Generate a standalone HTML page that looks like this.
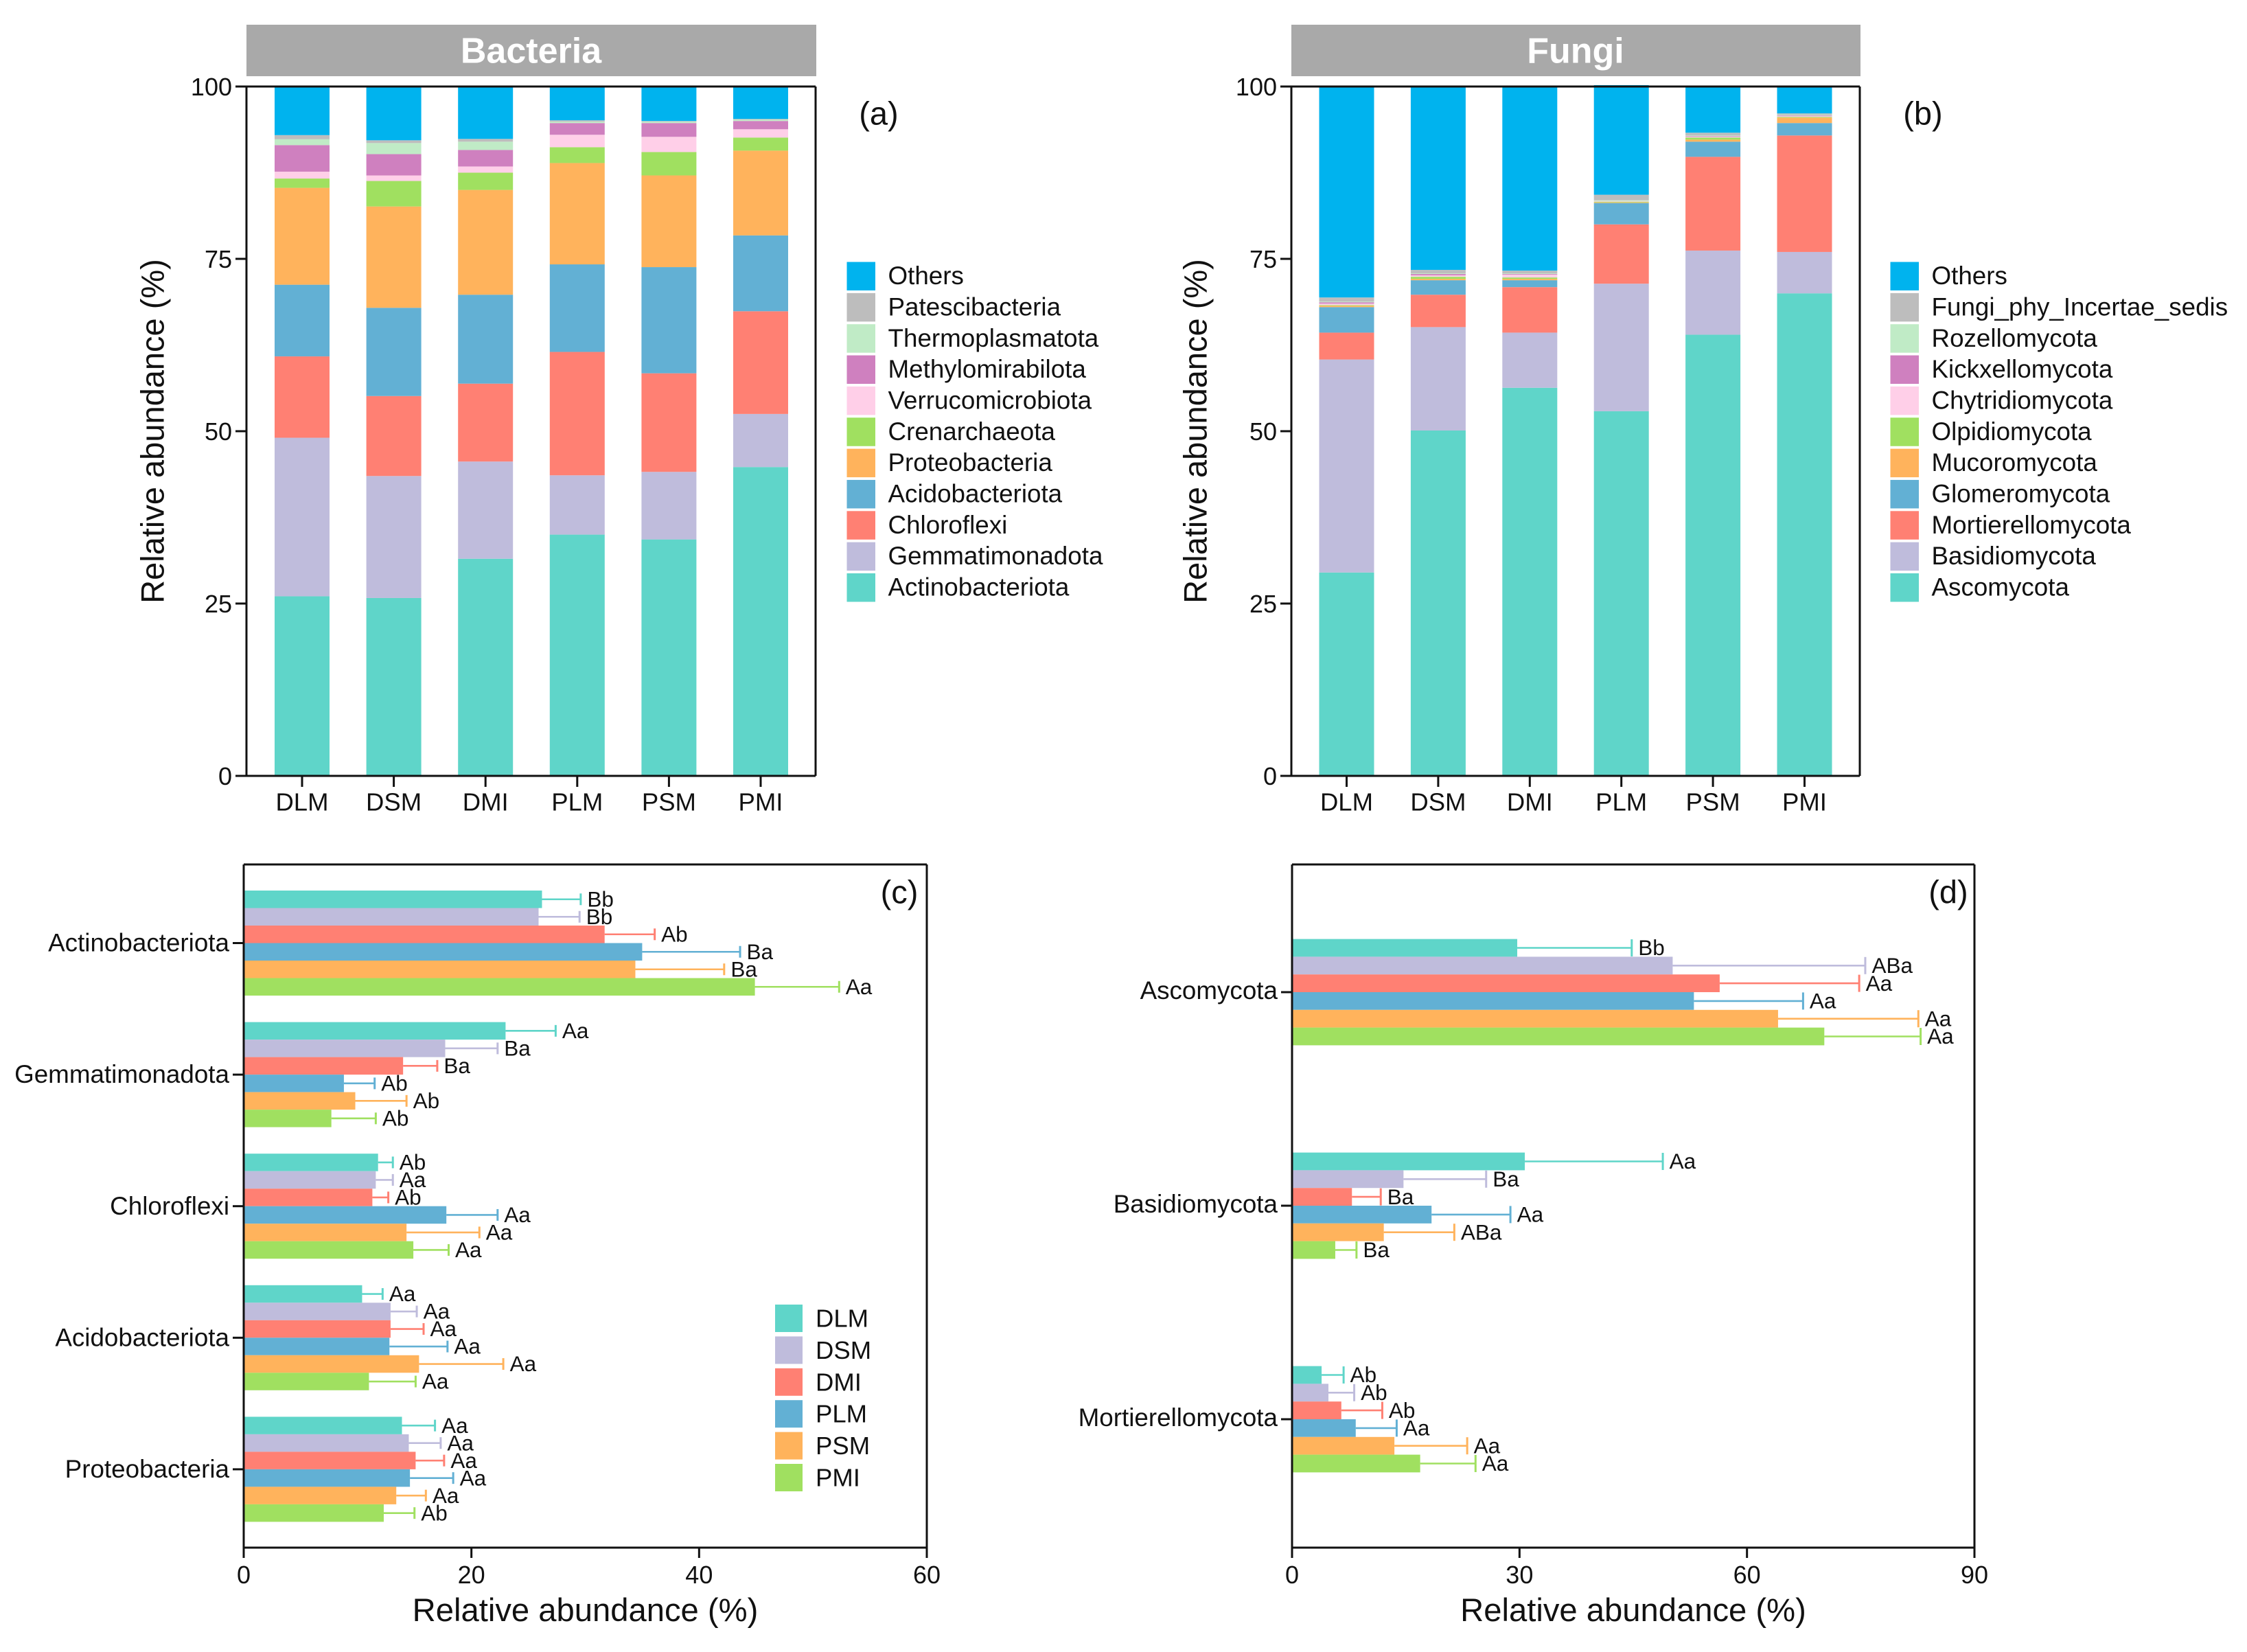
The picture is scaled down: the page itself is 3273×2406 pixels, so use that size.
<!DOCTYPE html>
<html lang="en">
<head>
<meta charset="utf-8">
<title>Relative abundance of bacteria and fungi</title>
<style>
  html, body { margin: 0; padding: 0; background: #fff; }
  #figure { display: block; width: 3273px; height: 2406px; font-family: "Liberation Sans", Arial, sans-serif; }
</style>
</head>
<body>
<svg id="figure" xmlns="http://www.w3.org/2000/svg" width="3273" height="2406" viewBox="0 0 3273 2406"></svg>
<script>
/* ---------- shared data ---------- */
const groups = ['DLM', 'DSM', 'DMI', 'PLM', 'PSM', 'PMI'];
const stackTicks = [0, 25, 50, 75, 100];

/* ---------- panel (a) values, % ---------- */
const bacteriaNames = ['Actinobacteriota', 'Gemmatimonadota', 'Chloroflexi', 'Acidobacteriota', 'Proteobacteria', 'Crenarchaeota', 'Verrucomicrobiota', 'Methylomirabilota', 'Thermoplasmatota', 'Patescibacteria', 'Others'];
const bacActinobacteriota = [26.05, 25.8, 31.5, 35.0, 34.3, 44.8];
const bacGemmatimonadota = [23.0, 17.7, 14.1, 8.6, 9.8, 7.7];
const bacChloroflexi = [11.8, 11.6, 11.3, 17.9, 14.3, 14.9];
const bacAcidobacteriota = [10.4, 12.8, 12.9, 12.7, 15.4, 11.0];
const bacProteobacteria = [14.05, 14.7, 15.2, 14.7, 13.3, 12.3];
const bacCrenarchaeota = [1.35, 3.7, 2.5, 2.3, 3.4, 1.9];
const bacVerrucomicrobiota = [1.0, 0.8, 0.9, 1.8, 2.2, 1.2];
const bacMethylomirabilota = [3.85, 3.1, 2.4, 1.7, 2.0, 1.2];
const bacThermoplasmatota = [0.85, 1.6, 1.2, 0.2, 0.2, 0.2];
const bacPatescibacteria = [0.6, 0.4, 0.4, 0.2, 0.1, 0.1];
const bacOthers = [7.0, 7.8, 7.6, 4.9, 5.0, 4.7];

/* ---------- panel (b) values, % ---------- */
const fungiNames = ['Ascomycota', 'Basidiomycota', 'Mortierellomycota', 'Glomeromycota', 'Mucoromycota', 'Olpidiomycota', 'Chytridiomycota', 'Kickxellomycota', 'Rozellomycota', 'Fungi_phy_Incertae_sedis', 'Others'];
const funAscomycota = [29.5, 50.1, 56.3, 52.9, 64.0, 70.0];
const funBasidiomycota = [30.9, 15.0, 8.0, 18.5, 12.2, 6.0];
const funMortierellomycota = [3.9, 4.7, 6.6, 8.6, 13.6, 16.9];
const funGlomeromycota = [3.7, 2.1, 1.0, 3.1, 2.2, 1.8];
const funMucoromycota = [0.2, 0.2, 0.2, 0.1, 0.3, 0.8];
const funOlpidiomycota = [0.1, 0.3, 0.2, 0.1, 0.3, 0.1];
const funChytridiomycota = [0.2, 0.2, 0.4, 0.1, 0.1, 0.1];
const funKickxellomycota = [0.2, 0.2, 0.1, 0.0, 0.1, 0.1];
const funRozellomycota = [0.1, 0.1, 0.1, 0.1, 0.1, 0.1];
const funIncertae = [0.6, 0.5, 0.4, 0.8, 0.4, 0.2];
const funOthers = [30.6, 26.6, 26.7, 15.9, 6.7, 4.0];

/* ---------- panel (c) values, % ---------- */
const bacteriaCategories = ['Actinobacteriota', 'Gemmatimonadota', 'Chloroflexi', 'Acidobacteriota', 'Proteobacteria'];
const bacteriaTicks = [0, 20, 40, 60];
const cMeanActinobacteriota = [26.2, 25.9, 31.7, 35.0, 34.4, 44.9];
const cErrorActinobacteriota = [29.6, 29.5, 36.1, 43.6, 42.2, 52.3];
const cLettersActinobacteriota = ['Bb', 'Bb', 'Ab', 'Ba', 'Ba', 'Aa'];
const cMeanGemmatimonadota = [23.0, 17.7, 14.0, 8.8, 9.8, 7.7];
const cErrorGemmatimonadota = [27.4, 22.3, 17.0, 11.5, 14.3, 11.6];
const cLettersGemmatimonadota = ['Aa', 'Ba', 'Ba', 'Ab', 'Ab', 'Ab'];
const cMeanChloroflexi = [11.8, 11.6, 11.3, 17.8, 14.3, 14.9];
const cErrorChloroflexi = [13.1, 13.1, 12.7, 22.3, 20.7, 18.0];
const cLettersChloroflexi = ['Ab', 'Aa', 'Ab', 'Aa', 'Aa', 'Aa'];
const cMeanAcidobacteriota = [10.4, 12.9, 12.9, 12.8, 15.4, 11.0];
const cErrorAcidobacteriota = [12.2, 15.2, 15.8, 17.9, 22.8, 15.1];
const cLettersAcidobacteriota = ['Aa', 'Aa', 'Aa', 'Aa', 'Aa', 'Aa'];
const cMeanProteobacteria = [13.9, 14.5, 15.1, 14.6, 13.4, 12.3];
const cErrorProteobacteria = [16.8, 17.3, 17.6, 18.4, 16.0, 15.0];
const cLettersProteobacteria = ['Aa', 'Aa', 'Aa', 'Aa', 'Aa', 'Ab'];

/* ---------- panel (d) values, % ---------- */
const fungiCategories = ['Ascomycota', 'Basidiomycota', 'Mortierellomycota'];
const fungiTicks = [0, 30, 60, 90];
const dMeanAscomycota = [29.7, 50.2, 56.4, 53.0, 64.1, 70.2];
const dErrorAscomycota = [44.8, 75.6, 74.8, 67.4, 82.6, 82.9];
const dLettersAscomycota = ['Bb', 'ABa', 'Aa', 'Aa', 'Aa', 'Aa'];
const dMeanBasidiomycota = [30.7, 14.7, 7.9, 18.4, 12.1, 5.7];
const dErrorBasidiomycota = [48.9, 25.6, 11.7, 28.8, 21.4, 8.5];
const dLettersBasidiomycota = ['Aa', 'Ba', 'Ba', 'Aa', 'ABa', 'Ba'];
const dMeanMortierellomycota = [3.9, 4.8, 6.5, 8.4, 13.5, 16.9];
const dErrorMortierellomycota = [6.8, 8.2, 11.9, 13.8, 23.1, 24.2];
const dLettersMortierellomycota = ['Ab', 'Ab', 'Ab', 'Aa', 'Aa', 'Aa'];

/* ---------- colours ---------- */
const stackColors = ['#5fd5c9', '#bfbcdc', '#ff8073', '#62b0d4', '#ffb35c', '#a0e060', '#ffcfe8', '#cf80bf', '#c0ebc6', '#bdbdbd', '#00b3ee'];
const ink = '#111111';

/* ---------- drawing helpers ---------- */
const NS = 'http://www.w3.org/2000/svg';
const root = document.getElementById('figure');

function slug(s) {
  return String(s).toLowerCase().replace(/[^a-z0-9]+/g, '-').replace(/^-|-$/g, '');
}
function makeGroup(parent, name) {
  const el = document.createElementNS(NS, 'g');
  
  
  parent.appendChild(el);
  return el;
}
function makeRect(parent, name, x, y, w, h, fill) {
  const el = document.createElementNS(NS, 'rect');
  el.setAttribute('x', x);
  el.setAttribute('y', y);
  el.setAttribute('width', w);
  el.setAttribute('height', h);
  el.setAttribute('fill', fill);
  
  
  parent.appendChild(el);
  return el;
}
function makeLine(parent, name, x1, y1, x2, y2, stroke, width) {
  const el = document.createElementNS(NS, 'line');
  el.setAttribute('x1', x1);
  el.setAttribute('y1', y1);
  el.setAttribute('x2', x2);
  el.setAttribute('y2', y2);
  el.setAttribute('stroke', stroke);
  el.setAttribute('stroke-width', width);
  
  
  parent.appendChild(el);
  return el;
}
function makeText(parent, name, x, y, str, size, anchor, fill, weight) {
  const el = document.createElementNS(NS, 'text');
  el.setAttribute('x', x);
  el.setAttribute('y', y + size * 0.355);
  el.setAttribute('font-size', size);
  el.setAttribute('text-anchor', anchor);
  el.setAttribute('fill', fill || ink);
  if (weight) el.setAttribute('font-weight', weight);
  el.textContent = str;
  
  
  parent.appendChild(el);
  return el;
}

/* ---------- stacked panel ---------- */
function drawStacked(cfg) {
  const g = makeGroup(root, cfg.id + '-stacked-chart');
  const yScale = v => cfg.bottom - (v / 100) * (cfg.bottom - cfg.top);

  makeRect(g, cfg.id + '-title-strip', cfg.left, 36, cfg.right - cfg.left + 1, 75, '#a9a9a9');
  makeText(g, cfg.id + '-title', (cfg.left + cfg.right) / 2, 73, cfg.title, 52, 'middle', '#ffffff', 'bold');

  groups.forEach((name, i) => {
    const barGroup = makeGroup(g, cfg.id + '-stack-' + slug(name));
    const cx = cfg.firstCenter + i * cfg.pitch;
    let base = 0;
    cfg.series.forEach((values, s) => {
      const yTop = yScale(base + values[i]);
      const yBottom = yScale(base);
      makeRect(barGroup, 'bar-' + slug(name) + '-' + slug(cfg.names[s]), cx - 40, yTop, 80, Math.max(0, yBottom - yTop), stackColors[s]);
      base += values[i];
    });
    makeLine(g, 'x-tick-' + slug(name), cx, cfg.bottom, cx, cfg.bottom + 16, ink, 3);
    makeText(g, 'x-label-' + slug(name), cx, 1167.5, name, 36.5, 'middle');
  });

  makeLine(g, cfg.id + '-axis-top', cfg.left, cfg.top, cfg.right, cfg.top, ink, 3);
  makeLine(g, cfg.id + '-axis-right', cfg.right, cfg.top, cfg.right, cfg.bottom, ink, 3);
  makeLine(g, cfg.id + '-axis-bottom', cfg.left, cfg.bottom, cfg.right, cfg.bottom, ink, 3);
  makeLine(g, cfg.id + '-axis-left', cfg.left, cfg.top, cfg.left, cfg.bottom, ink, 3);

  stackTicks.forEach(t => {
    makeLine(g, 'y-tick-' + t, cfg.left - 16, yScale(t), cfg.left, yScale(t), ink, 3);
    makeText(g, 'y-label-' + t, cfg.left - 21, yScale(t), String(t), 36, 'end');
  });

  const title = makeText(g, 'y-axis-title', cfg.titleX, 628, 'Relative abundance (%)', 47, 'middle');
  title.setAttribute('transform', 'rotate(-90 ' + cfg.titleX + ' 628)');
  title.setAttribute('x', cfg.titleX);
  title.setAttribute('y', 628 + 47 * 0.355);

  makeText(g, 'panel-label', cfg.labelX, 165, cfg.label, 47, 'middle');

  const legend = makeGroup(g, cfg.id + '-legend');
  for (let k = 0; k < cfg.names.length; k++) {
    const idx = cfg.names.length - 1 - k;
    const y = 381.5 + k * 45.35;
    makeRect(legend, 'legend-swatch-' + slug(cfg.names[idx]), cfg.legendX, y, 41.5, 41.5, stackColors[idx]);
    makeText(legend, 'legend-entry-' + slug(cfg.names[idx]), cfg.legendX + 60, y + 19.5, cfg.names[idx], 36.8, 'start');
  }
}

/* ---------- horizontal bar panel ---------- */
function drawBars(cfg) {
  const g = makeGroup(root, cfg.id + '-bar-chart');
  const xMax = cfg.ticks[cfg.ticks.length - 1];
  const xScale = v => cfg.left + (v / xMax) * (cfg.right - cfg.left);

  cfg.categories.forEach((cat, c) => {
    const cg = makeGroup(g, cfg.id + '-group-' + slug(cat));
    const center = cfg.firstCenter + c * cfg.pitch;
    const top = center - cfg.barHeight * 3;
    groups.forEach((name, i) => {
      const y = top + i * cfg.barHeight;
      const mid = y + cfg.barHeight / 2;
      const mean = cfg.means[c][i];
      const err = cfg.errors[c][i];
      const col = stackColors[i];
      makeLine(cg, 'error-line-' + slug(cat) + '-' + slug(name), xScale(mean), mid, xScale(err), mid, col, 2.6);
      makeLine(cg, 'error-cap-' + slug(cat) + '-' + slug(name), xScale(err), mid - cfg.capHeight / 2, xScale(err), mid + cfg.capHeight / 2, col, 3);
      makeRect(cg, 'bar-' + slug(cat) + '-' + slug(name), cfg.left, y, xScale(mean) - cfg.left, cfg.barHeight, col);
      makeText(cg, 'significance-' + slug(cat) + '-' + slug(name), xScale(err) + 9.5, mid - 0.5, cfg.letters[c][i], 31.5, 'start');
    });
    makeLine(g, 'y-tick-' + slug(cat), cfg.left - 16, center, cfg.left, center, ink, 3);
    makeText(g, 'y-label-' + slug(cat), cfg.left - 21, center + cfg.labelShift, cat, 36.8, 'end');
  });

  makeLine(g, cfg.id + '-axis-top', cfg.left, cfg.top, cfg.right, cfg.top, ink, 3);
  makeLine(g, cfg.id + '-axis-right', cfg.right, cfg.top, cfg.right, cfg.bottom, ink, 3);
  makeLine(g, cfg.id + '-axis-bottom', cfg.left, cfg.bottom, cfg.right, cfg.bottom, ink, 3);
  makeLine(g, cfg.id + '-axis-left', cfg.left, cfg.top, cfg.left, cfg.bottom, ink, 3);

  cfg.ticks.forEach(t => {
    makeLine(g, 'x-tick-' + t, xScale(t), cfg.bottom, xScale(t), cfg.bottom + 15, ink, 3);
    makeText(g, 'x-label-' + t, xScale(t), 2293, String(t), 36, 'middle');
  });

  makeText(g, 'x-axis-title', (cfg.left + cfg.right) / 2, 2344, 'Relative abundance (%)', 47.2, 'middle');
  makeText(g, 'panel-label', cfg.labelX, 1299, cfg.label, 47, 'middle');

  if (cfg.showLegend) {
    const legend = makeGroup(g, 'group-legend');
    groups.forEach((name, i) => {
      const y = 1900 + i * 46.4;
      makeRect(legend, 'legend-swatch-' + slug(name), 1129, y, 40, 40, stackColors[i]);
      makeText(legend, 'legend-entry-' + slug(name), 1188, y + 19.5, name, 36.5, 'start');
    });
  }
}

/* ---------- render ---------- */
drawStacked({
  id: 'bacteria', title: 'Bacteria', label: '(a)', left: 359, right: 1188, top: 126, bottom: 1130,
  firstCenter: 440, pitch: 133.6, titleX: 222, labelX: 1280, legendX: 1233.5,
  names: bacteriaNames,
  series: [bacActinobacteriota, bacGemmatimonadota, bacChloroflexi, bacAcidobacteriota, bacProteobacteria, bacCrenarchaeota, bacVerrucomicrobiota, bacMethylomirabilota, bacThermoplasmatota, bacPatescibacteria, bacOthers]
});
drawStacked({
  id: 'fungi', title: 'Fungi', label: '(b)', left: 1881, right: 2709, top: 126, bottom: 1130,
  firstCenter: 1961.5, pitch: 133.4, titleX: 1741, labelX: 2801, legendX: 2753.5,
  names: fungiNames,
  series: [funAscomycota, funBasidiomycota, funMortierellomycota, funGlomeromycota, funMucoromycota, funOlpidiomycota, funChytridiomycota, funKickxellomycota, funRozellomycota, funIncertae, funOthers]
});
drawBars({
  id: 'bacteria-phyla', label: '(c)', left: 355, right: 1350, top: 1259, bottom: 2254,
  firstCenter: 1373.5, pitch: 191.6, barHeight: 25.5, capHeight: 17, labelX: 1310, labelShift: -1, showLegend: true,
  ticks: bacteriaTicks, categories: bacteriaCategories,
  means: [cMeanActinobacteriota, cMeanGemmatimonadota, cMeanChloroflexi, cMeanAcidobacteriota, cMeanProteobacteria],
  errors: [cErrorActinobacteriota, cErrorGemmatimonadota, cErrorChloroflexi, cErrorAcidobacteriota, cErrorProteobacteria],
  letters: [cLettersActinobacteriota, cLettersGemmatimonadota, cLettersChloroflexi, cLettersAcidobacteriota, cLettersProteobacteria]
});
drawBars({
  id: 'fungi-phyla', label: '(d)', left: 1882, right: 2876, top: 1259, bottom: 2254,
  firstCenter: 1445, pitch: 311, barHeight: 25.8, capHeight: 25, labelX: 2838, labelShift: -3, showLegend: false,
  ticks: fungiTicks, categories: fungiCategories,
  means: [dMeanAscomycota, dMeanBasidiomycota, dMeanMortierellomycota],
  errors: [dErrorAscomycota, dErrorBasidiomycota, dErrorMortierellomycota],
  letters: [dLettersAscomycota, dLettersBasidiomycota, dLettersMortierellomycota]
});
</script>
</body>
</html>
